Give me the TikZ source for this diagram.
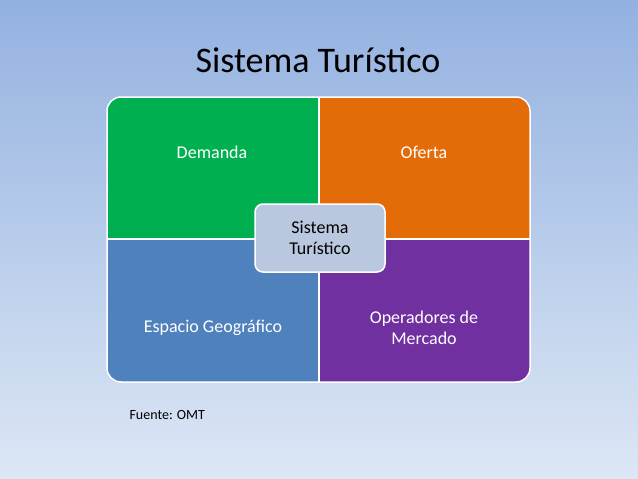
\documentclass[tikz,border=0pt]{standalone}
\usepackage{fontspec}
\setmainfont{Carlito}
\definecolor{bgtop}{HTML}{93B1E0}
\definecolor{bgbot}{HTML}{DDE7F5}
\definecolor{demgreen}{HTML}{00B050}
\definecolor{oforange}{HTML}{E36C09}
\definecolor{espblue}{HTML}{4F81BD}
\definecolor{opurple}{HTML}{7030A0}
\definecolor{centerfill}{HTML}{B9C8DE}
\begin{document}
\begin{tikzpicture}[x=1pt,y=-1pt,
  quad_text/.style={text=white, font=\fontsize{18}{21}\selectfont, align=center},
]
\useasboundingbox (0,0) rectangle (638,479);
\shade[top color=bgtop, bottom color=bgbot] (0,0) rectangle (638,479);
\node (title) at (318,60) {\fontsize{36}{40}\selectfont Sistema Turístico};
% quadrants
\begin{scope}
\clip[rounded corners=14pt] (107,97) rectangle (530,382);
\fill[demgreen] (107,97) rectangle (319,239);
\fill[oforange] (319,97) rectangle (530,239);
\fill[espblue] (107,239) rectangle (319,382);
\fill[opurple] (319,239) rectangle (530,382);
\end{scope}
\draw[white, line width=1.5pt] (319,97) -- (319,382);
\draw[white, line width=1.5pt] (107,239) -- (530,239);
\draw[white, line width=1.5pt, rounded corners=14pt] (107,97) rectangle (530,382);
\node (dem) [quad_text] at (212,152) {Demanda};
\node (ofe) [quad_text] at (424,152) {Oferta};
\node (esp) [quad_text] at (213,328) {Espacio Geográfico};
\node (ope) [quad_text] at (424,328) {Operadores de\\Mercado};
% center
\draw[white, line width=1.5pt, fill=centerfill, rounded corners=8pt] (255,204) rectangle (385,272);
\node (sis) [font=\fontsize{18}{21}\selectfont, align=center] at (320,238) {Sistema\\Turístico};
\node (fuente) [anchor=west, font=\fontsize{14}{16}\selectfont] at (126,415) {Fuente: OMT};
\end{tikzpicture}
\end{document}
